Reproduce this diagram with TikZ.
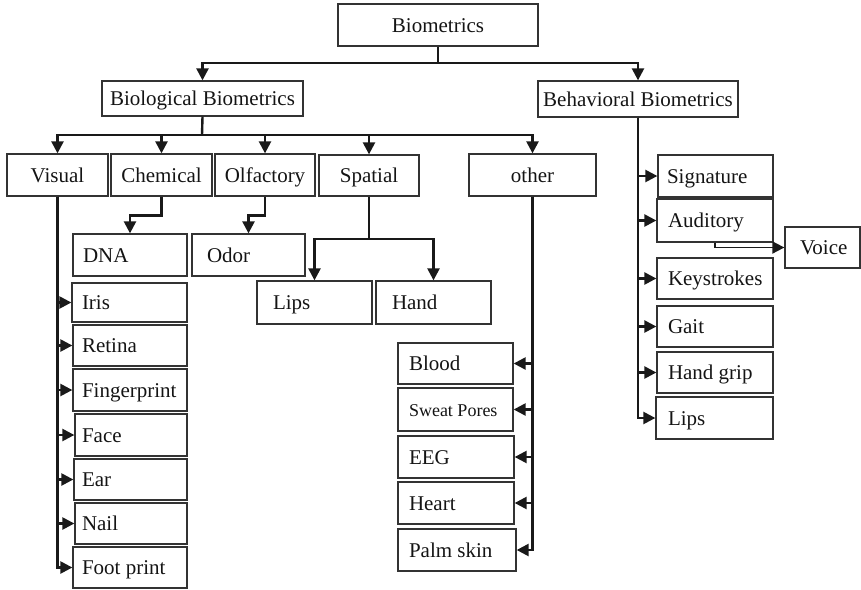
\documentclass[tikz,border=0pt]{standalone}
\usepackage{fontspec}
\setmainfont{Liberation Serif}
\usetikzlibrary{arrows.meta}

% Box with centred label: name, x1, y1, x2, y2, label
\newcommand\cbox[6]{%
  \pgfmathsetmacro\boxW{#4-#2}\pgfmathsetmacro\boxH{#5-#3}%
  \pgfmathsetmacro\boxX{(#2+#4)/2}\pgfmathsetmacro\boxY{(#3+#5)/2}%
  \node[box, minimum width=\boxW pt, minimum height=\boxH pt] (#1) at (\boxX,\boxY) {#6};}
% Box with left-aligned label: name, x1, y1, x2, y2, left padding, label
\newcommand\lbox[7]{%
  \pgfmathsetmacro\boxW{#4-#2}\pgfmathsetmacro\boxH{#5-#3}%
  \pgfmathsetmacro\boxX{(#2+#4)/2}\pgfmathsetmacro\boxY{(#3+#5)/2}%
  \pgfmathsetmacro\boxT{#4-#2-2*#6}%
  \node[box, inner xsep=#6pt, minimum width=\boxW pt, minimum height=\boxH pt] (#1) at (\boxX,\boxY) {\makebox[\boxT pt][l]{#7}};}

\begin{document}
\begin{tikzpicture}[x=1pt,y=-1pt,
  box/.style={draw=black!80, line width=1.3pt, rectangle, inner ysep=0pt,
    text height=15pt, text depth=1pt, text=black!92,
    font=\fontsize{21}{25}\selectfont},
  trunk/.style={line width=2.4pt, draw=black!90},
  conn/.style={trunk, -{Triangle[length=12pt,width=12pt]}}]
\useasboundingbox (0,0) rectangle (861,589);

% top levels
\cbox{biom}{338}{4}{538}{46}{Biometrics}
\cbox{biol}{102}{81}{303}{116}{Biological Biometrics}
\cbox{behv}{538}{81}{738}{117}{Behavioral Biometrics}

% biological categories
\cbox{vis}{7}{154}{108}{196}{Visual}
\cbox{chem}{111}{154}{212}{196}{Chemical}
\cbox{olf}{215}{154}{315}{196}{Olfactory}
\cbox{spat}{319}{155}{419}{196}{Spatial}
\cbox{oth}{469}{154}{596}{196}{other}

% chemical / olfactory
\lbox{dna}{73}{234}{187}{276}{10}{DNA}
\lbox{odor}{192}{234}{305}{276}{15}{Odor}

% visual
\lbox{iris}{72}{283}{187}{322}{10}{Iris}
\lbox{ret}{73}{325}{187}{366}{9}{Retina}
\lbox{fing}{73}{369}{187}{411}{9}{Fingerprint}
\lbox{face}{75}{414}{187}{456}{7}{Face}
\lbox{ear}{74}{459}{187}{500}{8}{Ear}
\lbox{nail}{75}{503}{187}{544}{7}{Nail}
\lbox{foot}{73}{547}{187}{588}{9}{Foot print}

% spatial
\lbox{slips}{257}{281}{372}{324}{16}{Lips}
\lbox{hand}{376}{281}{491}{324}{16}{Hand}

% other
\lbox{blood}{398}{343}{513}{384}{11}{Blood}
\lbox{swp}{398}{388}{513}{431}{11}{\fontsize{18}{22}\selectfont Sweat Pores}
\lbox{eeg}{398}{436}{514}{478}{11}{EEG}
\lbox{heart}{398}{482}{514}{524}{11}{Heart}
\lbox{palm}{398}{529}{516}{571}{11}{Palm skin}

% behavioral
\lbox{sig}{658}{155}{773}{197}{9}{Signature}
\lbox{aud}{657}{199}{773}{242}{11}{Auditory}
\lbox{voice}{785}{227}{860}{268}{15}{Voice}
\lbox{key}{657}{258}{773}{299}{11}{Keystrokes}
\lbox{gait}{657}{306}{773}{347}{11}{Gait}
\lbox{hgrip}{657}{352}{773}{393}{11}{Hand grip}
\lbox{blips}{656}{397}{773}{439}{12}{Lips}

% junctions
\coordinate (j0) at (438,63);
\coordinate (j1) at (202,135);
\coordinate (j2) at (369,239);

% Biometrics split
\draw[trunk] (biom.south) -- (j0);
\draw[conn] (j0) -| (biol.north);
\draw[conn] (j0) -| (behv.north);

% Biological split
\draw[trunk] (biol.south) -- (j1);
\foreach \n in {vis,chem,olf,spat,oth} \draw[conn] (j1) -| (\n.north);

% Chemical and Olfactory
\draw[conn] (chem.south) -- ++(0,19) -| (dna.north);
\draw[conn] (olf.south) -- ++(0,19) -| (odor.north);

% Visual
\foreach \n in {iris,ret,fing,face,ear,nail,foot} \draw[conn] (vis.south) |- (\n.west);

% Spatial
\draw[trunk] (spat.south) -- (j2);
\draw[conn] (j2) -| (slips.north);
\draw[conn] (j2) -| (hand.north);

% other
\foreach \n in {blood,swp,eeg,heart,palm} \draw[conn] (oth.south) |- (\n.east);

% Behavioral
\foreach \n in {sig,aud,key,gait,hgrip,blips} \draw[conn] (behv.south) |- (\n.west);
\draw[conn, line width=1.8pt] (aud.south) |- (voice.west);
\end{tikzpicture}
\end{document}
